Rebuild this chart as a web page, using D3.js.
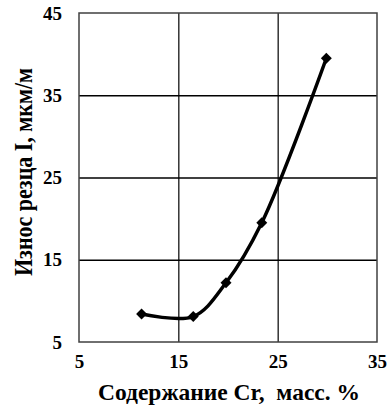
<!DOCTYPE html>
<html>
<head>
<meta charset="utf-8">
<script src="https://cdn.jsdelivr.net/npm/d3@7"></script>
<style>
  body { margin: 0; background: #fff; }
  text { font-family: "Liberation Serif", "Times New Roman", serif; font-weight: bold; fill: #000; }
</style>
</head>
<body>
<script>
// Cr content (mass %) vs cutter wear
const crContent = [11.3, 16.5, 19.8, 23.4, 29.9]
const wear = [8.4, 8.1, 12.2, 19.5, 39.5]
const xTicks = [5, 15, 25, 35]
const yTicks = [5, 15, 25, 35, 45]
const xTitle = "Содержание Cr,  масс. %"
const yTitle = "Износ резца I, мкм/м"

const width = 388
const height = 407
const margin = ({ top: 13, right: 11, bottom: 65, left: 79 })

const data = crContent.map((c, i) => ({ x: c, y: wear[i] }))

const x = d3.scaleLinear()
    .domain([5, 35])
    .range([margin.left, width - margin.right])
const y = d3.scaleLinear()
    .domain([5, 45])
    .range([height - margin.bottom, margin.top])

const svg = d3.select('body')
    .append('svg')
    .attr('width', width)
    .attr('height', height)

// gridlines
svg.append('g')
    .attr('transform', `translate(${margin.left},0)`)
    .call(d3.axisLeft(y).tickValues(yTicks.slice(1, -1)).tickSize(-(width - margin.left - margin.right)).tickFormat(''))
    .call(g => g.select('.domain').remove())
    .call(g => g.selectAll('line').attr('stroke', '#000').attr('stroke-width', 1.6))

svg.append('g')
    .attr('transform', `translate(0,${height - margin.bottom})`)
    .call(d3.axisBottom(x).tickValues(xTicks.slice(1, -1)).tickSize(-(height - margin.top - margin.bottom)).tickFormat(''))
    .call(g => g.select('.domain').remove())
    .call(g => g.selectAll('line').attr('stroke', '#000').attr('stroke-width', 1.2))

// frame
svg.append('rect')
    .attr('x', x(5))
    .attr('y', y(45))
    .attr('width', x(35) - x(5))
    .attr('height', y(5) - y(45))
    .attr('fill', 'none')
    .attr('stroke', '#404040')
    .attr('stroke-width', 1.5)

// tick labels
const yAxis = g => g
    .attr('transform', `translate(${margin.left},0)`)
    .call(d3.axisLeft(y).tickValues(yTicks).tickSize(0).tickPadding(17))
    .call(g => g.select('.domain').remove())
    .call(g => g.selectAll('text').attr('font-size', 19).attr('font-family', null))
const xAxis = g => g
    .attr('transform', `translate(0,${height - margin.bottom})`)
    .call(d3.axisBottom(x).tickValues(xTicks).tickSize(0).tickPadding(13))
    .call(g => g.select('.domain').remove())
    .call(g => g.selectAll('text').attr('font-size', 19).attr('font-family', null))
svg.append('g').call(yAxis)
svg.append('g').call(xAxis)

// curve
const line = d3.line()
    .x(d => x(d.x))
    .y(d => y(d.y))
    .curve(d3.curveCatmullRom.alpha(0.5))

svg.append('path')
    .datum(data)
    .attr('fill', 'none')
    .attr('stroke', '#000')
    .attr('stroke-width', 3.5)
    .attr('d', line)

svg.append('g')
    .selectAll('path')
    .data(data)
    .join('path')
    .attr('transform', d => `translate(${x(d.x)},${y(d.y)}) rotate(45)`)
    .attr('d', d3.symbol(d3.symbolSquare, 60))
    .attr('fill', '#000')

// titles
svg.append('text')
    .attr('x', 98)
    .attr('y', 400)
    .attr('font-size', 23)
    .attr('xml:space', 'preserve')
    .attr('textLength', 262)
    .attr('lengthAdjust', 'spacingAndGlyphs')
    .style('white-space', 'pre')
    .text(xTitle)

svg.append('text')
    .attr('transform', 'translate(32,172) rotate(-90) scale(1,1.15)')
    .attr('text-anchor', 'middle')
    .attr('font-size', 22)
    .text(yTitle)
</script>
</body>
</html>
